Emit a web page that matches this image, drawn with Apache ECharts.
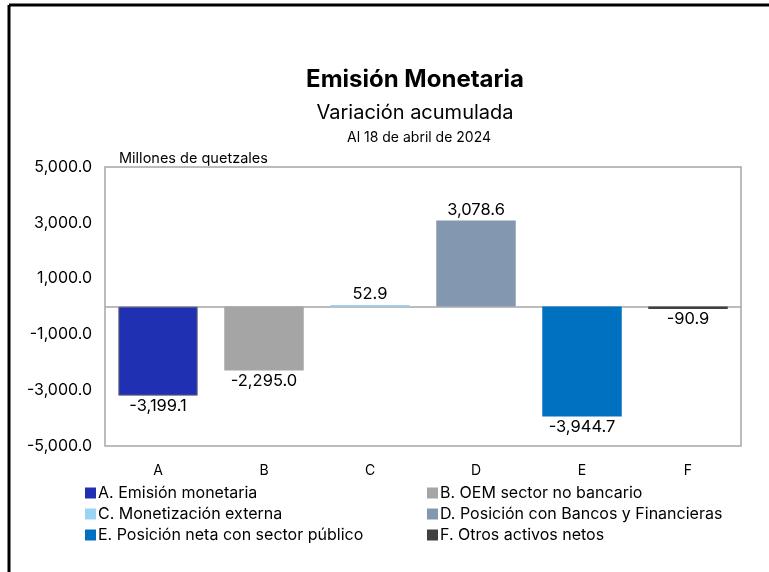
<!DOCTYPE html>
<html>
<head>
<meta charset="utf-8">
<script src="https://cdn.jsdelivr.net/npm/echarts@6/dist/echarts.min.js"></script>
<style>
  html, body { margin: 0; padding: 0; background: #fff; }
  #chart { width: 769px; height: 572px; }
</style>
</head>
<body>
<div id="chart"></div>
<script>
  const categories = ['A', 'B', 'C', 'D', 'E', 'F'];
  const seriesNames = [
    'A. Emisión monetaria',
    'B. OEM sector no bancario',
    'C. Monetización externa',
    'D. Posición con Bancos y Financieras',
    'E. Posición neta con sector público',
    'F. Otros activos netos'
  ];
  const values = [-3199.1, -2295.0, 52.9, 3078.6, -3944.7, -90.9];
  const colors = ['#1f31b2', '#a5a5a5', '#9dd3f2', '#8497b0', '#0070c0', '#404040'];
  const yTicks = [-5000, -3000, -1000, 1000, 3000, 5000];

  const FONT = 'Inter, "Noto Sans", sans-serif';
  const fmt = v => v.toLocaleString('en-US', { minimumFractionDigits: 1, maximumFractionDigits: 1 });

  const chart = echarts.init(document.getElementById('chart'));

  // una serie por categoria, apiladas, para que la leyenda salga sola
  const series = seriesNames.map((name, i) => {
    const data = categories.map((c, j) => (j === i ? values[i] : null));
    return {
      name: name,
      type: 'bar',
      stack: 'total',
      barWidth: '75%',
      z: 3,
      data: data,
      itemStyle: {
        color: colors[i],
        borderColor: '#7f7f7f',
        borderWidth: i === 0 ? 1 : 0
      },
      label: {
        show: true,
        position: values[i] >= 0 ? 'top' : 'bottom',
        distance: 2,
        fontFamily: FONT,
        fontSize: 16.5,
        color: '#000',
        formatter: p => fmt(p.value)
      }
    };
  });
  // linea del cero, por debajo de las barras
  series.push({
    name: 'cero',
    type: 'line',
    z: 1,
    data: [],
    markLine: {
      silent: true,
      symbol: 'none',
      z: 1,
      label: { show: false },
      lineStyle: { color: '#a6a6a6', type: 'solid', width: 1.5 },
      data: [{ yAxis: 0 }]
    }
  });

  const legendBase = {
    orient: 'vertical',
    top: 480,
    icon: 'rect',
    itemWidth: 11,
    itemHeight: 11,
    itemGap: 5,
    selectedMode: false,
    itemStyle: { borderWidth: 0 },
    textStyle: { fontFamily: FONT, fontSize: 16, color: '#000', padding: [0, 0, 0, -3] }
  };

  chart.setOption({
    animation: false,
    backgroundColor: '#fff',
    title: [
      { text: 'Emisión Monetaria', left: 410, top: 63, textAlign: 'center',
        textStyle: { fontFamily: FONT, fontSize: 24, fontWeight: 'bold', color: '#000' } },
      { text: 'Variación acumulada', left: 410, top: 98, textAlign: 'center',
        textStyle: { fontFamily: FONT, fontSize: 20, fontWeight: 'normal', color: '#000' } },
      { text: 'Al 18 de abril de 2024', left: 414, top: 126, textAlign: 'center',
        textStyle: { fontFamily: FONT, fontSize: 14, fontWeight: 'normal', color: '#000' } },
      { text: 'Millones de quetzales', left: 114, top: 146,
        textStyle: { fontFamily: FONT, fontSize: 14.5, fontWeight: 'normal', color: '#000' } }
    ],
    legend: [
      Object.assign({}, legendBase, { left: 80, data: [seriesNames[0], seriesNames[2], seriesNames[4]] }),
      Object.assign({}, legendBase, { left: 422, data: [seriesNames[1], seriesNames[3], seriesNames[5]] })
    ],
    grid: {
      left: 105, right: 28, top: 167, bottom: 126,
      show: true, borderColor: '#a6a6a6', borderWidth: 1.5, containLabel: false
    },
    xAxis: {
      type: 'category',
      data: categories,
      axisLine: { show: false, onZero: false },
      axisTick: { show: false },
      axisLabel: { fontFamily: FONT, fontSize: 14, color: '#000', margin: 18 }
    },
    yAxis: {
      type: 'value',
      min: yTicks[0],
      max: yTicks[yTicks.length - 1],
      interval: 2000,
      axisLine: { show: false },
      axisTick: { show: false },
      splitLine: { show: false },
      axisLabel: { fontFamily: FONT, fontSize: 16, color: '#000', margin: 13, formatter: v => fmt(v) }
    },
    graphic: [
      { type: 'line', shape: { x1: 9, y1: 5, x2: 769, y2: 5 }, style: { stroke: '#000', lineWidth: 3 } },
      { type: 'line', shape: { x1: 9, y1: 5, x2: 9, y2: 572 }, style: { stroke: '#000', lineWidth: 3 } }
    ],
    series: series
  });
</script>
</body>
</html>
